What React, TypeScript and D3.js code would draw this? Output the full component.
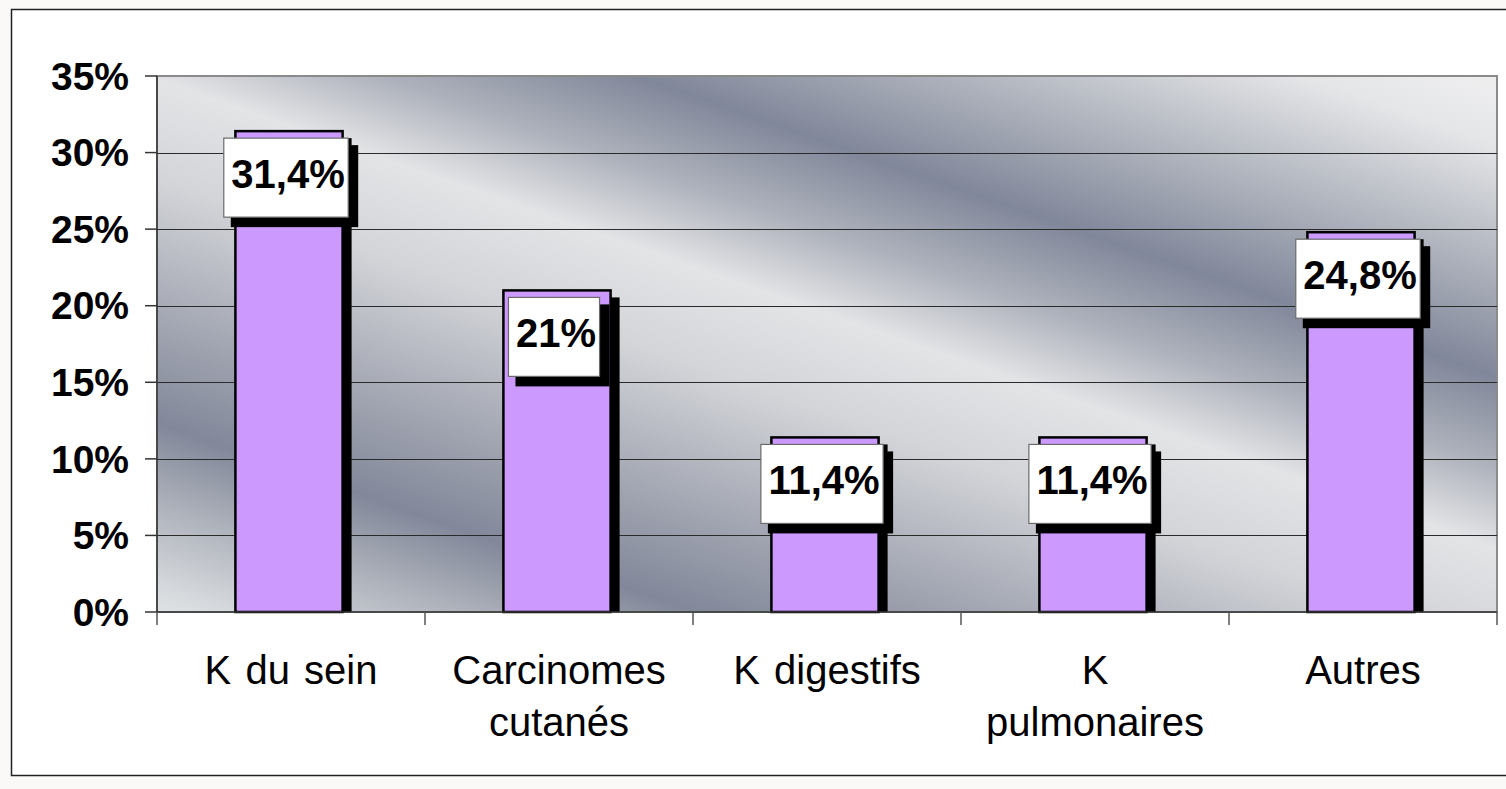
import React, { useEffect, useRef } from "react";
import * as d3 from "d3";

// data
const CATEGORIES = ["K du sein", "Carcinomes cutanés", "K digestifs", "K pulmonaires", "Autres"];
const CATEGORY_LINES = [["K du sein"], ["Carcinomes", "cutanés"], ["K digestifs"], ["K", "pulmonaires"], ["Autres"]];
const VALUES = [31.4, 21, 11.4, 11.4, 24.8];
const VALUE_LABELS = ["31,4%", "21%", "11,4%", "11,4%", "24,8%"];
const Y_TICKS = [0, 5, 10, 15, 20, 25, 30, 35];

const W = 1506;
const H = 789;
const FONT = "'Liberation Sans', Arial, Helvetica, sans-serif";

// plot frame
const M = { left: 157, right: 1497, top: 76, bottom: 612 };

// diagonal grey "satin" fill of the plot area
const BG_STOPS: [number, string][] = [
  [0, "#efeff0"],
  [0.07, "#e5e6e8"],
  [0.17, "#b8bcc4"],
  [0.3, "#81879a"],
  [0.39, "#aeb2bc"],
  [0.47, "#e3e4e6"],
  [0.57, "#d2d4d8"],
  [0.645, "#b8bbc3"],
  [0.725, "#9da1ae"],
  [0.81, "#82889a"],
  [0.89, "#aeb2bb"],
  [0.98, "#dadde0"],
  [1, "#e0e2e4"],
];

export default function App() {
  const svgRef = useRef<SVGSVGElement | null>(null);

  useEffect(() => {
    const svg = d3.select(svgRef.current);
    svg.selectAll("*").remove();

    const x = d3.scaleBand<string>().domain(CATEGORIES).range([M.left, M.right]).padding(0);
    const y = d3.scaleLinear().domain([0, 35]).range([M.bottom, M.top]);
    const bw = x.bandwidth() * 0.4;
    const barX = (c: string) => (x(c) as number) + x.bandwidth() * 0.3 - 2;

    const defs = svg.append("defs");
    const grad = defs
      .append("linearGradient")
      .attr("id", "plotbg")
      .attr("gradientUnits", "userSpaceOnUse")
      .attr("x1", 1500)
      .attr("y1", 75)
      .attr("x2", 1185)
      .attr("y2", 975);
    BG_STOPS.forEach(([o, c]) => grad.append("stop").attr("offset", o).attr("stop-color", c));

    // page + outer chart border
    svg.append("rect").attr("width", W).attr("height", H).attr("fill", "#fbf8f8");
    svg
      .append("rect")
      .attr("x", 11.5)
      .attr("y", 9.5)
      .attr("width", 1520)
      .attr("height", 766)
      .attr("fill", "#fff")
      .attr("stroke", "#222")
      .attr("stroke-width", 1.5);

    // plot area
    svg
      .append("rect")
      .attr("x", M.left)
      .attr("y", M.top)
      .attr("width", M.right - M.left)
      .attr("height", M.bottom - M.top)
      .attr("fill", "url(#plotbg)")
      .attr("stroke", "#8a8a8a")
      .attr("stroke-width", 2);

    // gridlines
    svg
      .append("g")
      .selectAll("line")
      .data(Y_TICKS.filter((t) => t > 0 && t < 35))
      .join("line")
      .attr("x1", M.left)
      .attr("x2", M.right)
      .attr("y1", (d) => Math.round(y(d)) + 0.5)
      .attr("y2", (d) => Math.round(y(d)) + 0.5)
      .attr("stroke", "#2a2a2a")
      .attr("stroke-width", 1);

    // bars (shadow first)
    const bars = svg.append("g");
    bars
      .selectAll("rect.shadow")
      .data(CATEGORIES)
      .join("rect")
      .attr("class", "shadow")
      .attr("x", (c) => barX(c) + 8)
      .attr("y", (c, i) => y(VALUES[i]) + 7)
      .attr("width", bw + 1)
      .attr("height", (c, i) => M.bottom - y(VALUES[i]) - 7)
      .attr("fill", "#000");
    bars
      .selectAll("rect.bar")
      .data(CATEGORIES)
      .join("rect")
      .attr("class", "bar")
      .attr("x", (c) => barX(c))
      .attr("y", (c, i) => y(VALUES[i]))
      .attr("width", bw)
      .attr("height", (c, i) => M.bottom - y(VALUES[i]))
      .attr("fill", "#cc99ff")
      .attr("stroke", "#000")
      .attr("stroke-width", 2.5);

    // y axis
    const gy = svg.append("g");
    gy.append("line")
      .attr("x1", M.left)
      .attr("x2", M.left)
      .attr("y1", M.top)
      .attr("y2", M.bottom)
      .attr("stroke", "#333")
      .attr("stroke-width", 1.5);
    gy.selectAll("line.tick")
      .data(Y_TICKS)
      .join("line")
      .attr("class", "tick")
      .attr("x1", M.left - 12)
      .attr("x2", M.left)
      .attr("y1", (d) => y(d))
      .attr("y2", (d) => y(d))
      .attr("stroke", "#333")
      .attr("stroke-width", 1.5);
    gy.selectAll("text")
      .data(Y_TICKS)
      .join("text")
      .attr("x", 129)
      .attr("y", (d) => y(d))
      .attr("dy", "0.35em")
      .attr("text-anchor", "end")
      .attr("font-family", FONT)
      .attr("font-weight", "bold")
      .attr("font-size", 39)
      .attr("fill", "#000")
      .text((d) => `${d}%`);

    // x axis
    const gx = svg.append("g");
    gx.append("line")
      .attr("x1", M.left)
      .attr("x2", M.right)
      .attr("y1", M.bottom)
      .attr("y2", M.bottom)
      .attr("stroke", "#333")
      .attr("stroke-width", 1.5);
    const bounds = [...CATEGORIES.map((c) => x(c) as number), M.right];
    gx.selectAll("line.tick")
      .data(bounds)
      .join("line")
      .attr("class", "tick")
      .attr("x1", (d) => d)
      .attr("x2", (d) => d)
      .attr("y1", M.bottom)
      .attr("y2", M.bottom + 13)
      .attr("stroke", "#555")
      .attr("stroke-width", 1.5);
    const cat = gx
      .selectAll("text")
      .data(CATEGORIES)
      .join("text")
      .attr("x", (c) => (x(c) as number) + x.bandwidth() / 2)
      .attr("y", 684)
      .attr("text-anchor", "middle")
      .attr("font-family", FONT)
      .attr("font-size", 40)
      .attr("word-spacing", 3)
      .attr("fill", "#000");
    cat.each(function (c, i) {
      const t = d3.select(this);
      const cx = (x(c) as number) + x.bandwidth() / 2;
      CATEGORY_LINES[i].forEach((ln, k) => {
        t.append("tspan").attr("x", cx).attr("dy", k === 0 ? 0 : 52).text(ln);
      });
    });

    // value labels (white boxes with drop shadow)
    const lab = svg
      .append("g")
      .selectAll("g")
      .data(CATEGORIES)
      .join("g");
    lab.each(function (c, i) {
      const g = d3.select(this);
      const sh = g.append("rect").attr("fill", "#000");
      const box = g.append("rect").attr("fill", "#fff").attr("stroke", "#6b6b6b").attr("stroke-width", 1.2);
      const cx = barX(c) + bw / 2 - 3;
      const top = y(VALUES[i]) + 7;
      const txt = g
        .append("text")
        .attr("x", cx + 2)
        .attr("y", top + 50)
        .attr("text-anchor", "middle")
        .attr("font-family", FONT)
        .attr("font-weight", "bold")
        .attr("font-size", 40)
        .attr("fill", "#000")
        .text(VALUE_LABELS[i]);
      const tw = (txt.node() as SVGTextElement).getComputedTextLength();
      const w = tw + 11;
      const h = 79;
      box.attr("x", cx - w / 2).attr("y", top).attr("width", w).attr("height", h);
      sh.attr("x", cx - w / 2 + 7).attr("y", top + 7).attr("width", w + 3).attr("height", h + 3);
    });
  }, []);

  return (
    <svg
      ref={svgRef}
      width={W}
      height={H}
      style={{ position: "absolute", left: 0, top: 0, display: "block" }}
    />
  );
}
